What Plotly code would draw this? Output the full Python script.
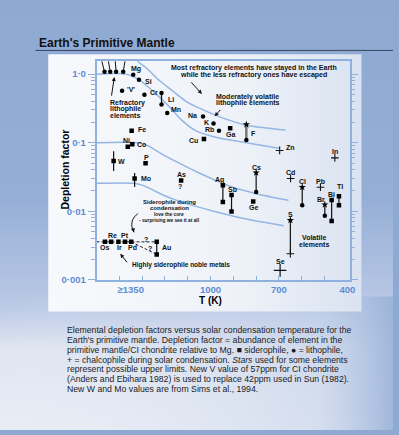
import numpy as np
import plotly.graph_objects as go

# ---------------- data: condensation temperature (K) vs depletion factor ----------------
litho_names = ["Ca", "Al", "Ti", "REE", "Mg", "Si", "V", "Cr", "Mn", "Na", "K", "Rb"]
litho_T = [1465, 1440, 1414, 1383, 1339, 1314, 1388, 1290, 1190, 1033, 987, 963]
litho_val = [1.08, 1.08, 1.08, 1.08, 0.98, 0.83, 0.57, 0.50, 0.27, 0.24, 0.19, 0.149]

sidero_names = ["Fe", "Ni", "Co", "W", "P", "Mo", "As", "Ga", "Cu", "Ge",
                "Os", "Re", "Ir", "Pt", "Pd"]
sidero_T = [1346, 1363, 1343, 1425, 1285, 1333, 1129, 914, 1029, 813,
            1463, 1436, 1404, 1375, 1348]
sidero_val = [0.149, 0.0875, 0.095, 0.054, 0.050, 0.030, 0.028, 0.163, 0.113, 0.0139,
              0.00357, 0.00357, 0.00357, 0.00357, 0.00357]

chalco_names = ["Zn", "In", "Cd", "Pb"]
chalco_T = [697, 455, 649, 518]
chalco_val = [0.077, 0.060, 0.030, 0.0224]

se_T = [695]
se_val = [0.00137]

# elements shown as a range (upper value, lower value)
range_names = ["Li", "F", "Cs", "Ag", "Sb", "Cl", "Br", "Bi", "Tl", "S", "Au"]
range_T = [1215, 843, 800, 946, 908, 598, 499, 469, 437, 650, 1236]
range_hi = [0.53, 0.184, 0.0365, 0.024, 0.0172, 0.0224, 0.0125, 0.0146, 0.0166, 0.0074, 0.00357]
range_lo = [0.36, 0.109, 0.019, 0.0136, 0.0099, 0.0122, 0.0086, 0.0072, 0.0122, 0.0024, 0.00234]
range_top = ["circle", "star", "star", "square", "square", "star", "star", "square", "square", "star", "square"]
range_bot = ["circle", "circle", "circle", "square", "square", "circle", "circle", "square", "square", "plus", "square"]

# uncertainty bars on W and Mo
err_T = [1425, 1333]
err_hi = [0.075, 0.036]
err_lo = [0.0385, 0.0225]

# trend curves
curve_a_T = [1327, 1319, 1275, 1232, 1167, 1103, 1059, 951, 843, 757, 671]
curve_a_val = [1.76, 1.54, 1.18, 0.85, 0.57, 0.39, 0.33, 0.232, 0.18, 0.164, 0.153]
curve_b_T = [1500, 1370, 1319, 1254, 1189, 1124, 1059, 973, 843, 701]
curve_b_val = [1.0, 1.0, 0.85, 0.57, 0.357, 0.21, 0.146, 0.119, 0.100, 0.083]
curve_c_T = [1500, 1319, 1275, 1219, 1146, 1059, 982, 908, 800, 658]
curve_c_val = [0.1, 0.1, 0.090, 0.070, 0.052, 0.0373, 0.0286, 0.0227, 0.018, 0.0144]
curve_d_T = [1500, 1340, 1297, 1254, 1211, 1133, 986, 843, 679]
curve_d_val = [0.0255, 0.0255, 0.0238, 0.0205, 0.0174, 0.0138, 0.010, 0.0077, 0.00615]

x_tickvals = [1350, 1000, 700, 400]
x_ticktext = ["\u22651350", "1000", "700", "400"]
y_tickvals = [0.001, 0.01, 0.1, 1]
y_ticktext = ["0\u00b7001", "0\u00b701", "0\u00b71", "1\u00b70"]

caption = [
    "Elemental depletion factors versus solar condensation temperature for the",
    "Earth's primitive mantle. Depletion factor = abundance of element in the",
    "primitive mantle/CI chondrite relative to Mg. \u25a0 siderophile, \u25cf = lithophile,",
    "+ = chalcophile during solar condensation. <i>Stars</i> used for some elements",
    "represent possible upper limits. New V value of 57ppm for CI chondrite",
    "(Anders and Ebihara 1982) is used to replace 42ppm used in Sun (1982).",
    "New W and Mo values are from Sims et al., 1994.",
]

# ---------------- styling ----------------
W, H = 399, 435
FONT = "Liberation Sans, Arial, Helvetica, sans-serif"
AXIS_BLUE = "#8fb1de"
TICK_BLUE = "#5a8dd5"
CURVE_BLUE = "#94b6e2"

# label placement: anchor, x shift, y shift (px)
label_offsets = {
    "Mg": ("center", 3, 6), "Si": ("left", 4, -2), "V": ("left", 3, 1), "Cr": ("left", 4, 2),
    "Li": ("left", 4, -6), "Mn": ("left", 2, 4), "Na": ("right", -4, 1), "K": ("right", -3, 1.5),
    "Rb": ("right", -3, 1), "Fe": ("left", 4, 1), "Ni": ("center", -1.5, 6), "Co": ("left", 3, 0),
    "W": ("left", 2.5, 0), "P": ("center", 1, 5.5), "Mo": ("left", 4, 0), "As": ("center", 0, 6),
    "Ga": ("center", 0, -6), "Cu": ("right", -3.5, -1), "Ge": ("center", 0, -6),
    "Zn": ("left", 4, 2.5), "In": ("center", 0, 6), "Cd": ("center", 0, 6.5), "Pb": ("center", 0, 5.5),
    "F": ("left", 3, -9), "Cs": ("center", 0, 5.5), "Ag": ("center", -3, 5), "Sb": ("center", 1, 5.5),
    "Cl": ("center", 0, 5.5), "Br": ("center", -4, 5), "Bi": ("center", 0, 5), "Tl": ("center", 1, 10),
    "S": ("center", 0, 5.5), "Au": ("left", 3, -5.5),
    "Os": ("center", 0, -6), "Re": ("center", 1, 6), "Ir": ("center", 1, -6), "Pt": ("center", 0, 6),
    "Pd": ("center", 1, -6), "Se": ("center", 0, 9),
}
label_text = {"V": "'V'"}

fig = go.Figure()

# ---------------- page background (first subplot, pixel space) ----------------
def bg_rect(x0, x1, y0, y1, kind, stops, start, stop):
    fig.add_trace(go.Scatter(
        x=[x0, x1, x1, x0, x0], y=[y0, y0, y1, y1, y0], mode="none", fill="toself",
        fillgradient=dict(type=kind, colorscale=stops, start=start, stop=stop),
        hoverinfo="skip", showlegend=False, xaxis="x", yaxis="y"))

bg_rect(0, W, 0, H, "vertical",
        [[0, "#8ea9d2"], [0.45, "#95aed6"], [0.7, "#b9c8e5"], [0.8, "#dfe5f1"], [1, "#e9edf5"]], 0, H)
bg_rect(0, W, 300, H, "horizontal",
        [[0, "rgba(233,237,245,0)"], [0.8, "rgba(190,205,232,0.45)"], [1, "rgba(150,176,216,0.95)"]], 0, W)
bg_rect(49, 367, 55, 315, "horizontal",
        [[0, "#f8f9fc"], [0.6, "#eef2f8"], [1, "#d9e2f1"]], 49, 367)

# ---------------- chart traces (second subplot) ----------------
XY = dict(xaxis="x2", yaxis="y2", hoverinfo="skip", showlegend=False)

for cT, cv in [(curve_a_T, curve_a_val), (curve_b_T, curve_b_val),
               (curve_c_T, curve_c_val), (curve_d_T, curve_d_val)]:
    fig.add_trace(go.Scatter(x=cT, y=cv, mode="lines",
                             line=dict(color=CURVE_BLUE, width=1.5, shape="spline", smoothing=0.8), **XY))

# noble-metal dashed links
pd_i = sidero_names.index("Pd")
au_i = range_names.index("Au")
fig.add_trace(go.Scatter(x=[1500, range_T[au_i]], y=[range_hi[au_i]] * 2, mode="lines",
                         line=dict(color="#222", width=1, dash="3px,2px"), **XY))
fig.add_trace(go.Scatter(x=[sidero_T[pd_i], range_T[au_i]], y=[sidero_val[pd_i], range_lo[au_i]],
                         mode="lines", line=dict(color="#222", width=1, dash="3px,2px"), **XY))

# range bars
bx, by = [], []
for t, hi, lo in zip(range_T + err_T, range_hi + err_hi, range_lo + err_lo):
    bx += [t, t, None]
    by += [hi, lo, None]
fig.add_trace(go.Scatter(x=bx, y=by, mode="lines", line=dict(color="#111", width=1.2), **XY))
fi = range_names.index("F")
fig.add_trace(go.Scatter(x=[range_T[fi]] * 2, y=[range_hi[fi], range_lo[fi]], mode="lines",
                         line=dict(color="#777", width=2.4), **XY))

# markers grouped by symbol
groups = {"circle": ([], []), "square": ([], []), "star": ([], []), "plus": ([], [])}
for t, v in zip(litho_T, litho_val):
    groups["circle"][0].append(t); groups["circle"][1].append(v)
for t, v in zip(sidero_T, sidero_val):
    groups["square"][0].append(t); groups["square"][1].append(v)
for t, v in zip(chalco_T, chalco_val):
    groups["plus"][0].append(t); groups["plus"][1].append(v)
for t, hi, lo, st, sb in zip(range_T, range_hi, range_lo, range_top, range_bot):
    groups[st][0].append(t); groups[st][1].append(hi)
    groups[sb][0].append(t); groups[sb][1].append(lo)

fig.add_trace(go.Scatter(x=groups["circle"][0], y=groups["circle"][1], mode="markers",
                         marker=dict(symbol="circle", size=4.5, color="#000"), **XY))
fig.add_trace(go.Scatter(x=groups["square"][0], y=groups["square"][1], mode="markers",
                         marker=dict(symbol="square", size=4.5, color="#000"), **XY))
fig.add_trace(go.Scatter(x=groups["star"][0], y=groups["star"][1], mode="markers",
                         marker=dict(symbol="star", size=5.5, color="#000"), **XY))
fig.add_trace(go.Scatter(x=groups["plus"][0], y=groups["plus"][1], mode="markers",
                         marker=dict(symbol="cross-thin", size=5.5, line=dict(color="#111", width=1.1)), **XY))
fig.add_trace(go.Scatter(x=se_T, y=se_val, mode="markers",
                         marker=dict(symbol="cross-thin", size=9, line=dict(color="#111", width=1.2)), **XY))

# ---------------- annotations ----------------
ann = []

def lab(text, T, v, anchor="center", dx=0, dy=0, size=7, bold=True, color="#111"):
    ann.append(dict(text=text, x=T, y=np.log10(v), xref="x2", yref="y2", showarrow=False,
                    xanchor=anchor, yanchor="middle", xshift=dx, yshift=dy,
                    font=dict(family=FONT, size=size, color=color, weight="bold" if bold else "normal")))

def arrow(T, v, ax, ay, head=2, size=0.8):
    ann.append(dict(text="", x=T, y=np.log10(v), xref="x2", yref="y2", showarrow=True,
                    ax=ax, ay=ay, arrowhead=head, arrowsize=size, arrowwidth=1, arrowcolor="#111"))

# element labels
positions = {}
for n, t, v in zip(litho_names, litho_T, litho_val):
    positions[n] = (t, v)
for n, t, v in zip(sidero_names, sidero_T, sidero_val):
    positions[n] = (t, v)
for n, t, v in zip(chalco_names, chalco_T, chalco_val):
    positions[n] = (t, v)
for n, t, hi in zip(range_names, range_T, range_hi):
    positions[n] = (t, hi)
positions["Se"] = (se_T[0], se_val[0])

for n, (t, v) in positions.items():
    if n in label_offsets:
        a, dx, dy = label_offsets[n]
        lab(label_text.get(n, n), t, v, a, dx, dy)

lab("?", positions["As"][0], positions["As"][1], "center", -1, -6)
lab("?", 1283, 0.00381, "center", 0, 0)
lab("?", 1264, 0.00283, "center", 0, 0)

# connectors from the group label to the refractory dots
for i, dxt in enumerate([-3, -2, -1, 2]):
    ann.append(dict(text="", x=litho_T[i], y=np.log10(litho_val[i]), xref="x2", yref="y2",
                    showarrow=True, ax=dxt, ay=-12, arrowhead=0, arrowwidth=1, arrowcolor="#111",
                    standoff=2))
lab("Ca, Al, Ti, REE  etc.", 1414, 1.80, "center")

# group notes
lab("Refractory", 1448, 0.378, "left")
lab("lithophile", 1448, 0.313, "left")
lab("elements", 1448, 0.25, "left")
arrow(1422, 0.905, -3, 20)

lab("Most refractory elements have stayed in the Earth", 810, 1.22, "center")
lab("while the less refractory ones have escaped", 810, 0.975, "center")
arrow(1038, 0.515, -12, -13)

lab("Moderately volatile", 987, 0.461, "left")
lab("lithophile elements", 987, 0.378, "left")
arrow(982, 0.242, 7, -8)

lab("Siderophile during", 1182, 0.01355, "center", size=6)
lab("condensation", 1182, 0.01099, "center", size=6)
lab("love the core", 1182, 0.00881, "center", size=4.8)
lab("- surprising we see it at all", 1182, 0.00722, "center", size=4.8)
fig.add_trace(go.Scatter(x=[1319, 1341, 1345, 1336], y=[0.00925, 0.0076, 0.0060, 0.00492],
                         mode="lines", line=dict(color="#111", width=1, shape="spline"), **XY))
arrow(1336, 0.00492, -1, -4)

lab("Highly siderophile noble metals", 1355, 0.00163, "left", size=6.5)
arrow(1396, 0.00239, 8, 10)

lab("Volatile", 545, 0.00407, "center")
lab("elements", 545, 0.0033, "center")

# axis titles
ann.append(dict(text="Depletion factor", x=66 / W, y=1 - 171.5 / H, xref="paper", yref="paper",
                showarrow=False, textangle=-90, xanchor="center", yanchor="middle",
                font=dict(family=FONT, size=10.5, color="#000", weight="bold")))
ann.append(dict(text="T (K)", x=214 / W, y=1 - 304 / H, xref="paper", yref="paper",
                showarrow=False, xanchor="center", yanchor="middle",
                font=dict(family=FONT, size=10, color="#000", weight="bold")))

# heading
ann.append(dict(text="Earth's Primitive Mantle", x=38 / W, y=1 - 44 / H, xref="paper", yref="paper",
                showarrow=False, xanchor="left", yanchor="middle",
                font=dict(family=FONT, size=12, color="#111", weight="bold")))

# caption
for i, line in enumerate(caption):
    ann.append(dict(text=line, x=66 / W, y=1 - (334 + 9.9 * i) / H, xref="paper", yref="paper",
                    showarrow=False, xanchor="left", yanchor="middle",
                    font=dict(family=FONT, size=8.7, color="#1c1c1c")))

minor_y = [m * 10.0 ** e for e in range(-3, 1) for m in range(2, 10)]

fig.update_layout(
    width=W, height=H, margin=dict(l=0, r=0, t=0, b=0),
    paper_bgcolor="#8ea9d2", plot_bgcolor="rgba(0,0,0,0)",
    showlegend=False, annotations=ann,
    shapes=[dict(type="line", xref="paper", yref="paper", x0=36 / W, x1=1,
                 y0=1 - 51 / H, y1=1 - 51 / H, line=dict(color="#38465e", width=1))],
    xaxis=dict(domain=[0, 1], range=[0, W], visible=False, fixedrange=True),
    yaxis=dict(domain=[0, 1], range=[H, 0], visible=False, fixedrange=True),
    xaxis2=dict(domain=[98 / W, 355 / W], anchor="y2", range=[1500, 390],
                showline=True, linecolor=AXIS_BLUE, linewidth=1.5, mirror=True,
                showgrid=False, zeroline=False, ticks="",
                tickvals=x_tickvals, ticktext=x_ticktext,
                tickfont=dict(family=FONT, size=9.5, color=TICK_BLUE, weight="bold"),
                minor=dict(ticks="inside", tickvals=list(range(500, 1500, 100)), ticklen=4,
                           tickwidth=1, tickcolor=AXIS_BLUE, showgrid=False)),
    yaxis2=dict(domain=[1 - 283 / H, 1 - 62 / H], anchor="x2", type="log", range=[-3, 0.1875],
                showline=True, linecolor=AXIS_BLUE, linewidth=1.5, mirror="ticks",
                showgrid=False, zeroline=False, ticks="outside", ticklen=7, tickwidth=1.2,
                tickcolor=AXIS_BLUE, tickvals=y_tickvals, ticktext=y_ticktext,
                tickfont=dict(family=FONT, size=9.5, color=TICK_BLUE, weight="bold"),
                minor=dict(ticks="outside", tickvals=minor_y, ticklen=4, tickwidth=1,
                           tickcolor=AXIS_BLUE, showgrid=False)),
)

fig.write_html("out.html")
